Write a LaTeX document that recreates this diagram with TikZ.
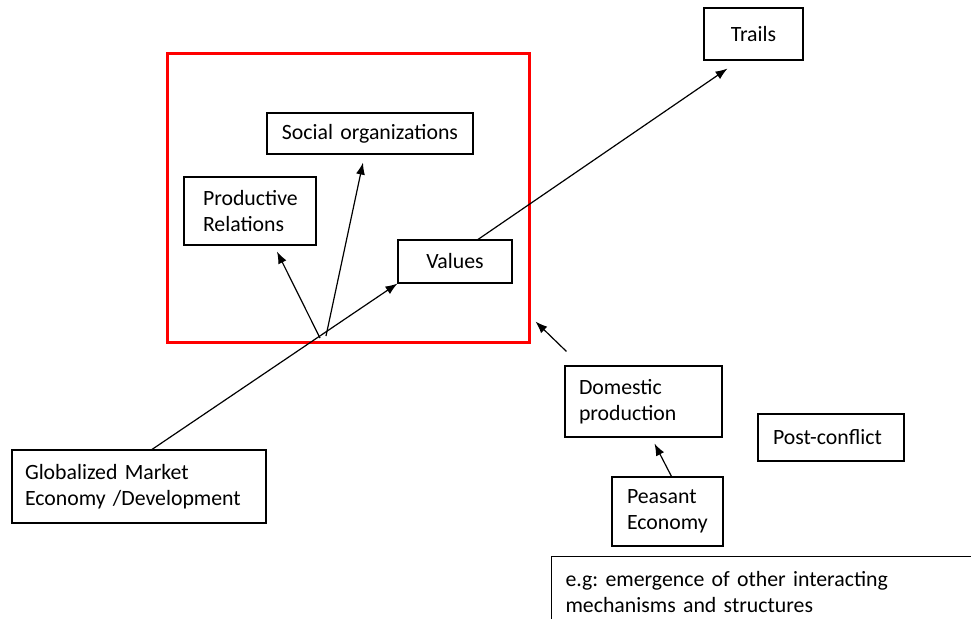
\documentclass[tikz,border=0pt]{standalone}
\usepackage{fontspec}
\setmainfont{Carlito}
\usepackage{tikz}
\usetikzlibrary{calc,positioning,arrows.meta}
\tikzset{
>={Latex[length=12pt,width=9pt]},
  box/.style={draw=black, line width=1.1pt, inner ysep=0pt, font=\boxfont, align=left},
  cbox/.style={box, align=center},
  frame/.style={draw=red, line width=3pt},
  lineR/.style={draw, line width=1.2pt, ->}
}
\newcommand{\boxfont}{\fontsize{21.8}{26}\selectfont}
\frenchspacing

\begin{document}
\begin{tikzpicture}[x=1pt, y=-1pt]
    \useasboundingbox (0,0) rectangle (971,618);
    \node [frame, minimum width=362, minimum height=288] (redbox) at (348,198) {};
    \node [cbox, inner xsep=10pt, text width=79pt, minimum height=52pt] (trails) at (753.5,34) {Trails};
    \node [cbox, inner xsep=10pt, text width=186pt, minimum height=41pt] (socorg) at (370,133.5) {Social organizations};
    \node [box, inner xsep=19pt, text width=94pt, minimum height=68pt] (prodrel) at (250,211) {Productive\\Relations};
    \node [cbox, inner xsep=10pt, text width=94pt, minimum height=43pt] (values) at (455,261.5) {Values};
    \node [box, inner xsep=14pt, text width=129pt, minimum height=71pt] (domestic) at (643.5,401.5) {Domestic\\production};
    \node [box, inner xsep=15pt, text width=116pt, minimum height=47pt] (postconf) at (831,437.5) {Post-conflict};
    \node [box, inner xsep=15pt, text width=81pt, minimum height=69pt] (peasant) at (667.5,511.5) {Peasant\\Economy};
    \node [box, inner xsep=13pt, text width=228pt, minimum height=73pt] (glob) at (139,486.5) {Globalized Market\\Economy /Development};
    \begin{scope}
      \clip (0,0) rectangle (971,618);
      \node [box, anchor=north west, inner xsep=14pt, text width=422pt, minimum height=70pt] (example) at (551,556) {e.g: emergence of other interacting\\mechanisms and structures};
    \end{scope}
    % arrows
    \coordinate (hub) at (320,338);
    \coordinate (domtail) at ([xshift=2pt, yshift=14pt]domestic.north west);
    \draw [lineR] ([xshift=13pt]glob.north) -- (values.south west);
    \draw [lineR] (hub) -- ([xshift=27pt, yshift=-6pt]prodrel.south);
    \draw [lineR] ([xshift=6pt, yshift=2pt]hub) -- ([xshift=-7pt, yshift=-8pt]socorg.south);
    \draw [lineR] ([xshift=23pt]values.north) -- ([xshift=-26pt, yshift=-8pt]trails.south);
    \draw [lineR] (domtail) -- ([xshift=5pt, yshift=22pt]redbox.south east);
    \draw [lineR] ([xshift=4pt]peasant.north) -- ([xshift=11pt, yshift=-6pt]domestic.south);
\end{tikzpicture}
\end{document}
